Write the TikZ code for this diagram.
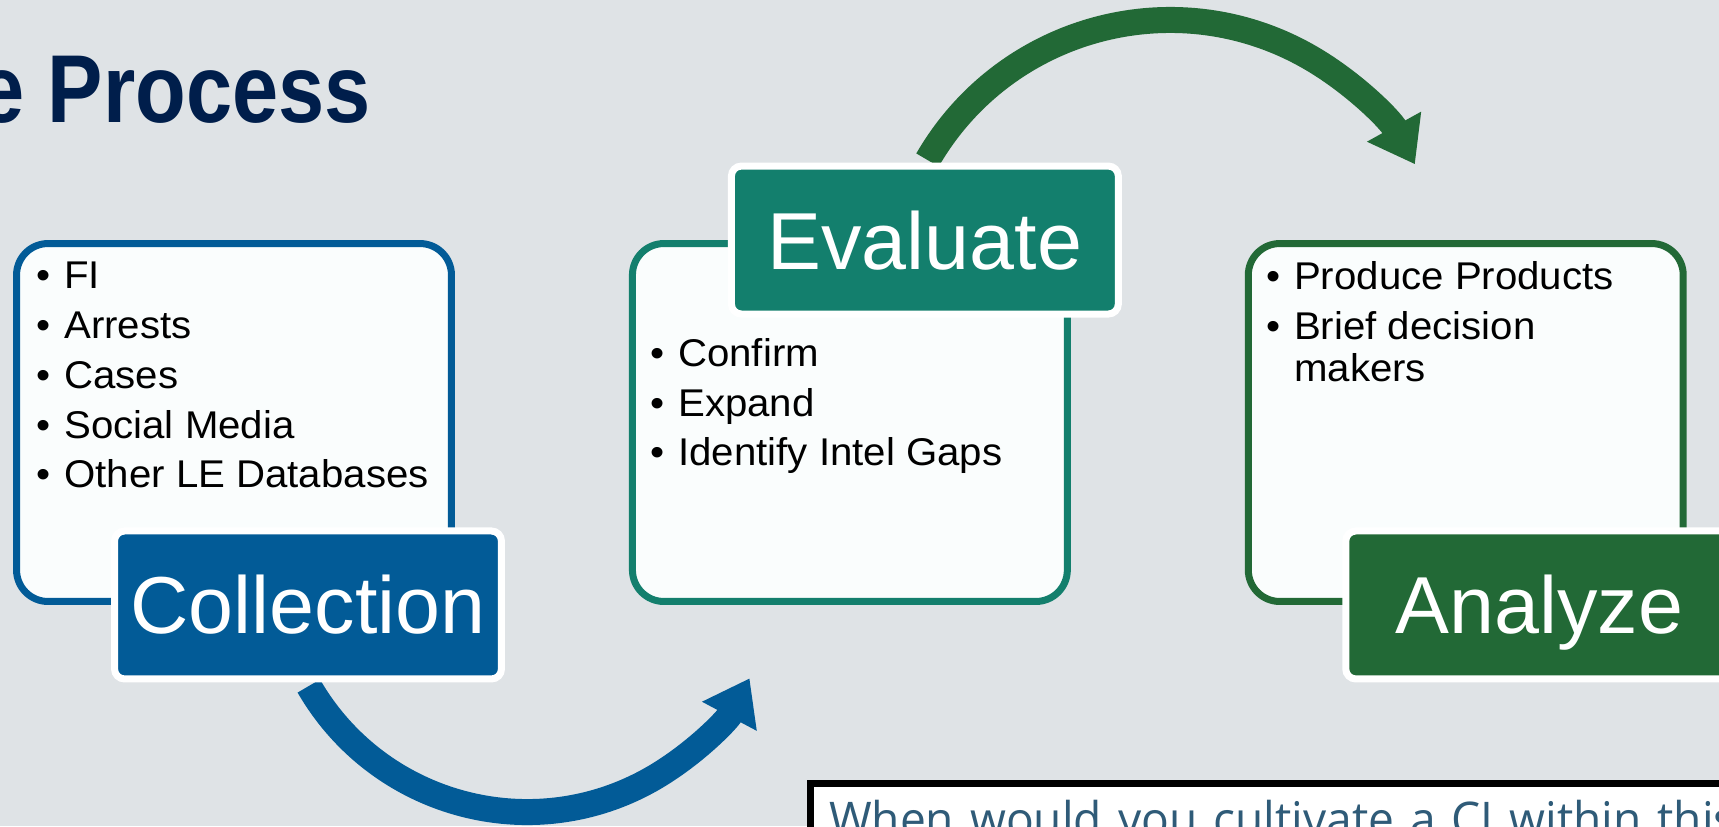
\documentclass[tikz,border=0pt]{standalone}
\usepackage{fontspec}
\setmainfont{Liberation Sans}
\newfontfamily\titlefont[FakeStretch=0.86]{Liberation Sans Bold}
\newfontfamily\listfont[FakeStretch=1.04]{Liberation Sans}
\newfontfamily\qfont[FakeStretch=0.965]{Open Sans}
\usetikzlibrary{arrows.meta, positioning}
\definecolor{slidebg}{RGB}{223,227,230}
\definecolor{titlenavy}{RGB}{0,30,75}
\definecolor{collblue}{RGB}{2,91,151}
\definecolor{evalteal}{RGB}{19,127,109}
\definecolor{anagreen}{RGB}{34,105,54}
\definecolor{listfill}{RGB}{250,253,253}
\definecolor{qtext}{RGB}{47,91,120}
\newcommand{\itm}{\makebox[0.56cm][l]{\textbullet}}

\tikzset{
    listbox/.style={draw=#1, line width=0.14cm, rounded corners=0.63cm, fill=listfill, minimum width=8.7cm, minimum height=7.16cm},
    steplabel/.style={draw=white, fill=#1, line width=0.14cm, rounded corners=0.2cm, minimum width=7.74cm, minimum height=2.96cm, text=white, text height=33pt, text depth=0pt, font=\fontsize{46}{50}\selectfont},
    listtext/.style={anchor=north west, align=left, inner sep=0pt, font=\listfont\fontsize{22}{23.9}\selectfont},
    flow/.style={draw=#1, line width=0.52cm, -{Triangle[length=0.86cm, width=1.18cm]}}
}

\begin{document}
\begin{tikzpicture}[x=0.02cm, y=-0.02cm]
    \useasboundingbox (0,0) rectangle (1719,826);
    \clip (0,0) rectangle (1719,826);
    \fill[slidebg] (0,0) rectangle (1719,826);

    \node[anchor=base east, inner sep=0pt, text=titlenavy, font=\titlefont\fontsize{54.9}{60}\selectfont] (title) at (371,122) {e Process};

    % the three boxes
    \node[listbox=collblue] (collbox) at (234,422.5) {};
    \node[listbox=evalteal, right=3.48cm of collbox] (evalbox) {};
    \node[listbox=anagreen, right=3.48cm of evalbox] (anabox) {};

    \node[listtext] (colllist) at ([shift={(23,22)}]collbox.north west) {\itm FI\\[4.4pt] \itm Arrests\\[4.4pt] \itm Cases\\[4.4pt] \itm Social Media\\[4.4pt] \itm Other LE Databases};
    \node[listtext] (evallist) at ([shift={(21,98)}]evalbox.north west) {\itm Confirm\\[4.4pt] \itm Expand\\[4.4pt] \itm Identify Intel Gaps};
    \node[listtext] (analist) at ([shift={(21,21)}]anabox.north west) {\itm Produce Products\\[4.4pt] \itm Brief decision\\ \hspace*{0.56cm}makers};

    % arrows between the steps
    \coordinate (colltail) at (308.8,686);
    \coordinate (evaltail) at (927.5,160);
    \draw[flow=collblue] (colltail) arc[start angle=150, end angle=28, radius=252];
    \draw[flow=anagreen] (evaltail) arc[start angle=-150, end angle=-29, radius=280];

    \node[steplabel=collblue] (colllabel) at ([xshift=1.48cm]collbox.south) {Collection};
    \node[steplabel=evalteal] (evallabel) at ([xshift=1.5cm]evalbox.north) {Evaluate};
    \node[steplabel=anagreen] (analabel) at ([xshift=1.47cm]anabox.south) {Analyze};

    \node[anchor=north west, draw=black, line width=0.14cm, fill=white, text=qtext, inner xsep=0.37cm, inner ysep=0.34cm, text width=20cm, align=left, font=\qfont\fontsize{27.2}{32}\selectfont] (question) at (807,780) {When would you cultivate a CI within this};
\end{tikzpicture}
\end{document}
